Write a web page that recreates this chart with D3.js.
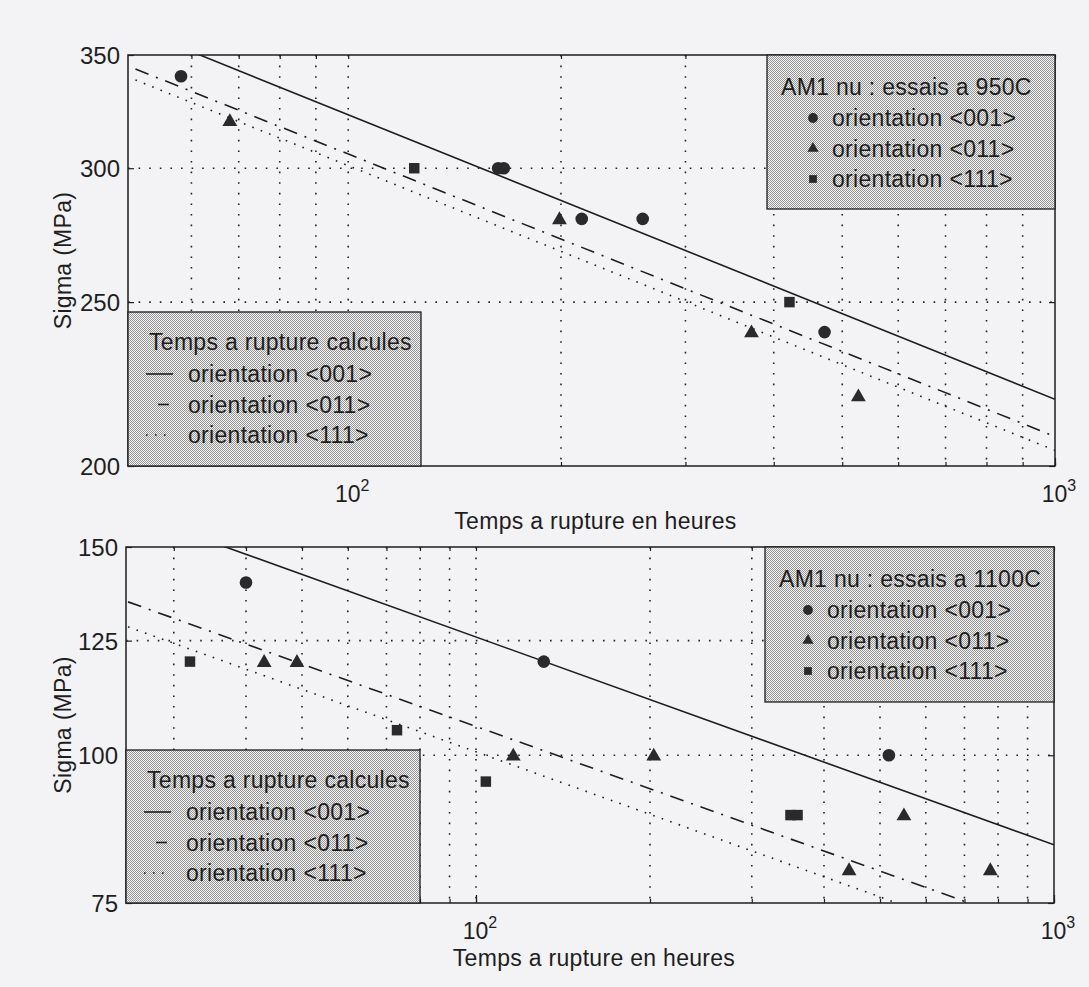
<!DOCTYPE html>
<html><head><meta charset="utf-8">
<script src="https://cdn.jsdelivr.net/npm/d3@7"></script>
<style>
html,body{margin:0;padding:0;background:#f3f3f5;}
text{font-family:"Liberation Sans",Arial,Helvetica,sans-serif;fill:#1e1e1e;}
</style></head><body>
<svg id="c" width="1089" height="987"></svg>
<script>
// ---------- data ----------
const xLabel = "Temps a rupture en heures";
const yLabel = "Sigma (MPa)";
const legendCalcTitle = "Temps a rupture calcules";
const orientations = ["orientation <001>", "orientation <011>", "orientation <111>"];
const title950 = "AM1 nu : essais a 950C";
const title1100 = "AM1 nu : essais a 1100C";

const xMajorTicks = [100, 1000];
const xMajorExp = ["2", "3"];
const xGrid950 = [60, 70, 80, 90, 100, 200, 300, 400, 500, 600, 700, 800, 900];
const xGrid1100 = [30, 40, 50, 60, 70, 80, 90, 100, 200, 300, 400, 500, 600, 700, 800, 900];
const yTicks950 = [200, 250, 300, 350];
const yTicks1100 = [75, 100, 125, 150];

// 950C measured points
const hours950_001 = [58, 163, 166, 214, 261, 472];
const sigma950_001 = [340, 300, 300, 280, 280, 240];
const hours950_011 = [68, 199, 372, 527];
const sigma950_011 = [320, 280, 240, 220];
const hours950_111 = [124, 421];
const sigma950_111 = [300, 250];
// 950C calculated lines
const calcHours950 = [50, 1000];
const calc950_001 = [362.6, 219];
const calc950_011 = [343.4, 208.2];
const calc950_111 = [338.3, 204.3];

// 1100C measured points
const hours1100_001 = [40, 131, 518];
const sigma1100_001 = [140, 120, 100];
const hours1100_011 = [43, 49, 116, 203, 442, 550, 776];
const sigma1100_011 = [120, 120, 100, 100, 80, 89, 80];
const hours1100_111 = [32, 73, 104, 350, 360];
const sigma1100_111 = [120, 105, 95, 89, 89];
// 1100C calculated lines
const calcHours1100 = [25, 1000];
const calc1100_001 = [160.6, 84];
const calc1100_011 = [134.8, 70.7];
const calc1100_111 = [128.4, 67.2];

// ---------- drawing ----------
const svg = d3.select("#c");
const INK = "#1e1e1e";
const defs = svg.append("defs");
const pat = defs.append("pattern").attr("id", "dither").attr("width", 2).attr("height", 2)
  .attr("patternUnits", "userSpaceOnUse");
pat.append("rect").attr("width", 2).attr("height", 2).attr("fill", "#f2f2f2");
pat.append("rect").attr("width", 1).attr("height", 1).attr("fill", "#969696");
pat.append("rect").attr("x", 1).attr("y", 1).attr("width", 1).attr("height", 1).attr("fill", "#969696");

const styles = [
  {dash: null},
  {dash: "14,8,2,8"},
  {dash: "1.6,7.4"}
];
const symbols = [d3.symbolCircle, d3.symbolTriangle, d3.symbolSquare];
const symSize = [125, 95, 110];
const legSymSize = [75, 55, 60];
const FS = 23;
const LS = 0.3;

function zip(a, b) { return a.map((v, i) => [v, b[i]]); }

function panel(o) {
  const g = svg.append("g");
  const x = d3.scaleLog().domain(o.xDomain).range([o.L, o.R]);
  const y = d3.scaleLog().domain(o.yDomain).range([o.B, o.T]);
  const cid = "clip" + o.id;
  defs.append("clipPath").attr("id", cid).append("rect")
    .attr("x", o.L).attr("y", o.T).attr("width", o.R - o.L).attr("height", o.B - o.T);

  // grid
  const grid = g.append("g").attr("stroke", "#222").attr("stroke-width", 1.6)
    .attr("stroke-dasharray", "1.6,9").attr("fill", "none");
  o.xGrid.forEach(v => grid.append("line").attr("x1", x(v)).attr("x2", x(v))
    .attr("y1", o.T).attr("y2", o.B));
  o.yTicks.slice(1, -1).forEach(v => grid.append("line").attr("x1", o.L).attr("x2", o.R)
    .attr("y1", y(v)).attr("y2", y(v)));

  // calculated lines
  const line = d3.line().x(d => x(d[0])).y(d => y(d[1]));
  const lg = g.append("g").attr("clip-path", `url(#${cid})`);
  o.calc.forEach((c, i) => {
    lg.append("path").datum(zip(o.calcHours, c)).attr("d", line)
      .attr("fill", "none").attr("stroke", INK).attr("stroke-width", 1.6)
      .attr("stroke-dasharray", styles[i].dash);
  });

  // measured points
  o.pts.forEach((p, i) => {
    lg.selectAll(null).data(zip(p[0], p[1])).enter().append("path")
      .attr("d", d3.symbol().type(symbols[i]).size(symSize[i]))
      .attr("transform", d => `translate(${x(d[0])},${y(d[1]) + (i === 1 ? 1 : 0)})`)
      .attr("fill", "#2a2a2a");
  });

  // ticks via axes
  const tk = (ax, tr) => {
    const a = g.append("g").attr("transform", tr).call(ax);
    a.select(".domain").remove();
    a.selectAll("line").attr("stroke", INK).attr("stroke-width", 1.2);
    return a;
  };
  tk(d3.axisBottom(x).tickValues(o.xGrid.concat([1000])).tickSize(-4).tickFormat(""), `translate(0,${o.B})`);
  tk(d3.axisBottom(x).tickValues(xMajorTicks).tickSize(-8).tickFormat(""), `translate(0,${o.B})`);
  tk(d3.axisTop(x).tickValues(o.xGrid.concat([1000])).tickSize(-4).tickFormat(""), `translate(0,${o.T})`);
  const yl = tk(d3.axisLeft(y).tickValues(o.yTicks).tickSize(-6).tickPadding(8).tickFormat(d3.format("d")), `translate(${o.L},0)`);
  yl.selectAll("text").attr("font-size", 24).attr("fill", INK)
    .style("font-family", '"Liberation Sans",Arial,sans-serif').attr("dy", "0.36em");
  tk(d3.axisRight(y).tickValues(o.yTicks).tickSize(-6).tickFormat(""), `translate(${o.R},0)`);

  // box
  g.append("rect").attr("x", o.L).attr("y", o.T).attr("width", o.R - o.L).attr("height", o.B - o.T)
    .attr("fill", "none").attr("stroke", INK).attr("stroke-width", 1.5);

  // major x labels
  xMajorTicks.forEach((v, i) => {
    const t = g.append("text").attr("x", x(v) + 4).attr("y", o.B + 36)
      .attr("text-anchor", "middle").attr("font-size", FS);
    t.append("tspan").text("10");
    t.append("tspan").attr("font-size", 16).attr("dy", -11).text(xMajorExp[i]);
  });

  // axis labels
  g.append("text").attr("x", (o.L + o.R) / 2 + 4).attr("y", o.B + 63).attr("text-anchor", "middle")
    .attr("font-size", FS).attr("letter-spacing", LS).text(xLabel);
  g.append("text").attr("transform", `translate(71,${(o.T + o.B) / 2}) rotate(-90)`)
    .attr("text-anchor", "middle").attr("font-size", FS).attr("letter-spacing", LS).text(yLabel);

  // legend: calculated lines (bottom-left)
  const L1 = o.leg1;
  g.append("rect").attr("x", L1.x).attr("y", L1.y).attr("width", L1.w).attr("height", L1.h)
    .attr("fill", "url(#dither)").attr("stroke", INK).attr("stroke-width", 1.3);
  g.append("text").attr("x", L1.x + 21).attr("y", L1.y + 38).attr("font-size", FS)
    .attr("letter-spacing", LS).text(legendCalcTitle);
  orientations.forEach((s, i) => {
    const yy = L1.y + 70 + i * 30.5;
    if (i === 1) {
      g.append("line").attr("x1", L1.x + 30).attr("x2", L1.x + 41).attr("y1", yy - 8).attr("y2", yy - 8)
        .attr("stroke", INK).attr("stroke-width", 1.6);
    } else {
      g.append("line").attr("x1", L1.x + 18).attr("x2", L1.x + 45).attr("y1", yy - 8).attr("y2", yy - 8)
        .attr("stroke", INK).attr("stroke-width", 1.6).attr("stroke-dasharray", styles[i].dash);
    }
    g.append("text").attr("x", L1.x + 60).attr("y", yy).attr("font-size", FS)
      .attr("letter-spacing", LS).text(s);
  });

  // legend: measured points (top-right)
  const L2 = o.leg2;
  g.append("rect").attr("x", L2.x).attr("y", L2.y).attr("width", L2.w).attr("height", L2.h)
    .attr("fill", "url(#dither)").attr("stroke", INK).attr("stroke-width", 1.3);
  g.append("text").attr("x", L2.x + 14).attr("y", L2.y + 40).attr("font-size", FS)
    .attr("letter-spacing", LS).text(o.title);
  orientations.forEach((s, i) => {
    const yy = L2.y + 71 + i * 30.5;
    g.append("path").attr("d", d3.symbol().type(symbols[i]).size(legSymSize[i]))
      .attr("transform", `translate(${L2.x + L2.mx},${yy - 8})`).attr("fill", "#2a2a2a");
    g.append("text").attr("x", L2.x + L2.mx + 19).attr("y", yy).attr("font-size", FS)
      .attr("letter-spacing", LS).text(s);
  });
}

panel({
  id: "a", L: 128, R: 1055, T: 55, B: 466,
  xDomain: [48.8, 1000], yDomain: [200, 350],
  xGrid: xGrid950, yTicks: yTicks950,
  calcHours: calcHours950, calc: [calc950_001, calc950_011, calc950_111],
  pts: [[hours950_001, sigma950_001], [hours950_011, sigma950_011], [hours950_111, sigma950_111]],
  title: title950,
  leg1: {x: 128, y: 312, w: 293, h: 154},
  leg2: {x: 767, y: 55, w: 288, h: 154, mx: 46}
});

panel({
  id: "b", L: 126, R: 1054, T: 547, B: 903,
  xDomain: [24.8, 1000], yDomain: [75, 150],
  xGrid: xGrid1100, yTicks: yTicks1100,
  calcHours: calcHours1100, calc: [calc1100_001, calc1100_011, calc1100_111],
  pts: [[hours1100_001, sigma1100_001], [hours1100_011, sigma1100_011], [hours1100_111, sigma1100_111]],
  title: title1100,
  leg1: {x: 126, y: 750, w: 294, h: 153},
  leg2: {x: 765, y: 547, w: 289, h: 155, mx: 43}
});
</script>
</body></html>
